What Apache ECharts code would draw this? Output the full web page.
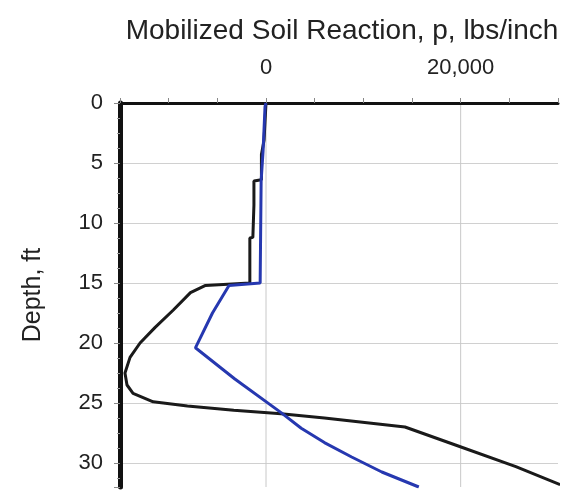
<!DOCTYPE html>
<html>
<head>
<meta charset="utf-8">
<script src="https://cdn.jsdelivr.net/npm/echarts@6/dist/echarts.min.js"></script>
<style>
  html, body { margin: 0; padding: 0; background: #fff; }
  #chart { width: 569px; height: 491px; }
</style>
</head>
<body>
<div id="chart"></div>
<script>
// blue curve: depth (ft) / soil reaction (lbs/inch)
const blueDepth = [0, 0.3, 4, 6.5, 15.0, 15.2, 17.5, 20.4, 23.0, 25.8, 27.1, 28.3, 29.5, 30.75, 32];
const blueP = [0, -100, -300, -500, -600, -3800, -5500, -7250, -3200, 1550, 3620, 6000, 8800, 11900, 15700];

// black curve
const blackDepth = [0, 3.1, 4.3, 6.4, 6.5, 8.5, 8.6, 11.2, 11.25, 15.0, 15.2, 15.8, 17.25, 18.7, 20.0, 21.2, 22.5, 23.5, 24.2, 24.9, 25.25, 25.6, 25.9, 26.25, 27.0, 28.5, 30.3, 31.8];
const blackP = [0, -200, -470, -470, -1240, -1240, -1350, -1350, -1660, -1660, -6210, -7760, -9520, -11390, -12940, -13970, -14490, -14280, -13660, -11590, -8070, -3310, 1550, 6000, 14280, 19460, 25670, 30220];

const xLabels = { 0: '0', 20000: '20,000' };
// vertical grid lines only at the labelled values
const xGrid = [0, 20000];
const depthMax = 32;

const toPairs = (depth, p) => depth.map((d, i) => [p[i], d]);

const chart = echarts.init(document.getElementById('chart'));
const font = 'Liberation Sans, Arial, sans-serif';

const option = {
  animation: false,
  title: {
    text: 'Mobilized Soil Reaction, p, lbs/inch',
    left: 337,
    top: 12,
    textAlign: 'center',
    textStyle: { fontFamily: font, fontSize: 28, fontWeight: 'normal', color: '#222' }
  },
  grid: { left: 120, top: 103, width: 438, height: 384 },
  xAxis: {
    type: 'value',
    position: 'top',
    min: -15000,
    max: 30000,
    interval: 5000,
    axisLine: { show: true, onZero: false, lineStyle: { color: '#111', width: 3 } },
    axisTick: { show: true, inside: false, length: 5, lineStyle: { color: '#888' } },
    axisLabel: {
      margin: 24,
      fontFamily: font,
      fontSize: 22,
      color: '#222',
      formatter: v => xLabels[v] || ''
    },
    splitLine: { show: false }
  },
  yAxis: {
    type: 'value',
    inverse: true,
    min: 0,
    max: depthMax,
    interval: 5,
    name: 'Depth, ft',
    nameLocation: 'middle',
    nameGap: 74,
    nameRotate: 90,
    nameTextStyle: { fontFamily: font, fontSize: 25, color: '#222' },
    axisLine: { show: true, onZero: false, lineStyle: { color: '#111', width: 5 } },
    axisTick: { show: true, length: 6, lineStyle: { color: '#888' } },
    minorTick: { show: true, splitNumber: 4, length: 3, lineStyle: { color: '#999' } },
    axisLabel: {
      margin: 17,
      fontFamily: font,
      fontSize: 22,
      color: '#222',
      showMaxLabel: false
    },
    splitLine: { show: true, showMaxLine: false, lineStyle: { color: '#d0d0d0', width: 1 } }
  },
  series: [
    {
      name: 'black',
      type: 'line',
      data: toPairs(blackDepth, blackP),
      symbol: 'none',
      lineStyle: { color: '#1a1a1a', width: 3 }
    },
    {
      name: 'blue',
      type: 'line',
      data: toPairs(blueDepth, blueP),
      symbol: 'none',
      lineStyle: { color: '#2638b0', width: 3 }
    }
  ]
};

chart.setOption(option);

// vertical grid lines at 0 and 20,000, placed through the axis scale
chart.setOption({
  graphic: xGrid.map(v => {
    const top = chart.convertToPixel({ gridIndex: 0 }, [v, 0]);
    const bot = chart.convertToPixel({ gridIndex: 0 }, [v, depthMax]);
    return {
      type: 'line',
      silent: true,
      z: 0,
      shape: { x1: top[0], y1: top[1], x2: bot[0], y2: bot[1] },
      style: { stroke: '#c8c8c8', lineWidth: 1 }
    };
  })
});
</script>
</body>
</html>
